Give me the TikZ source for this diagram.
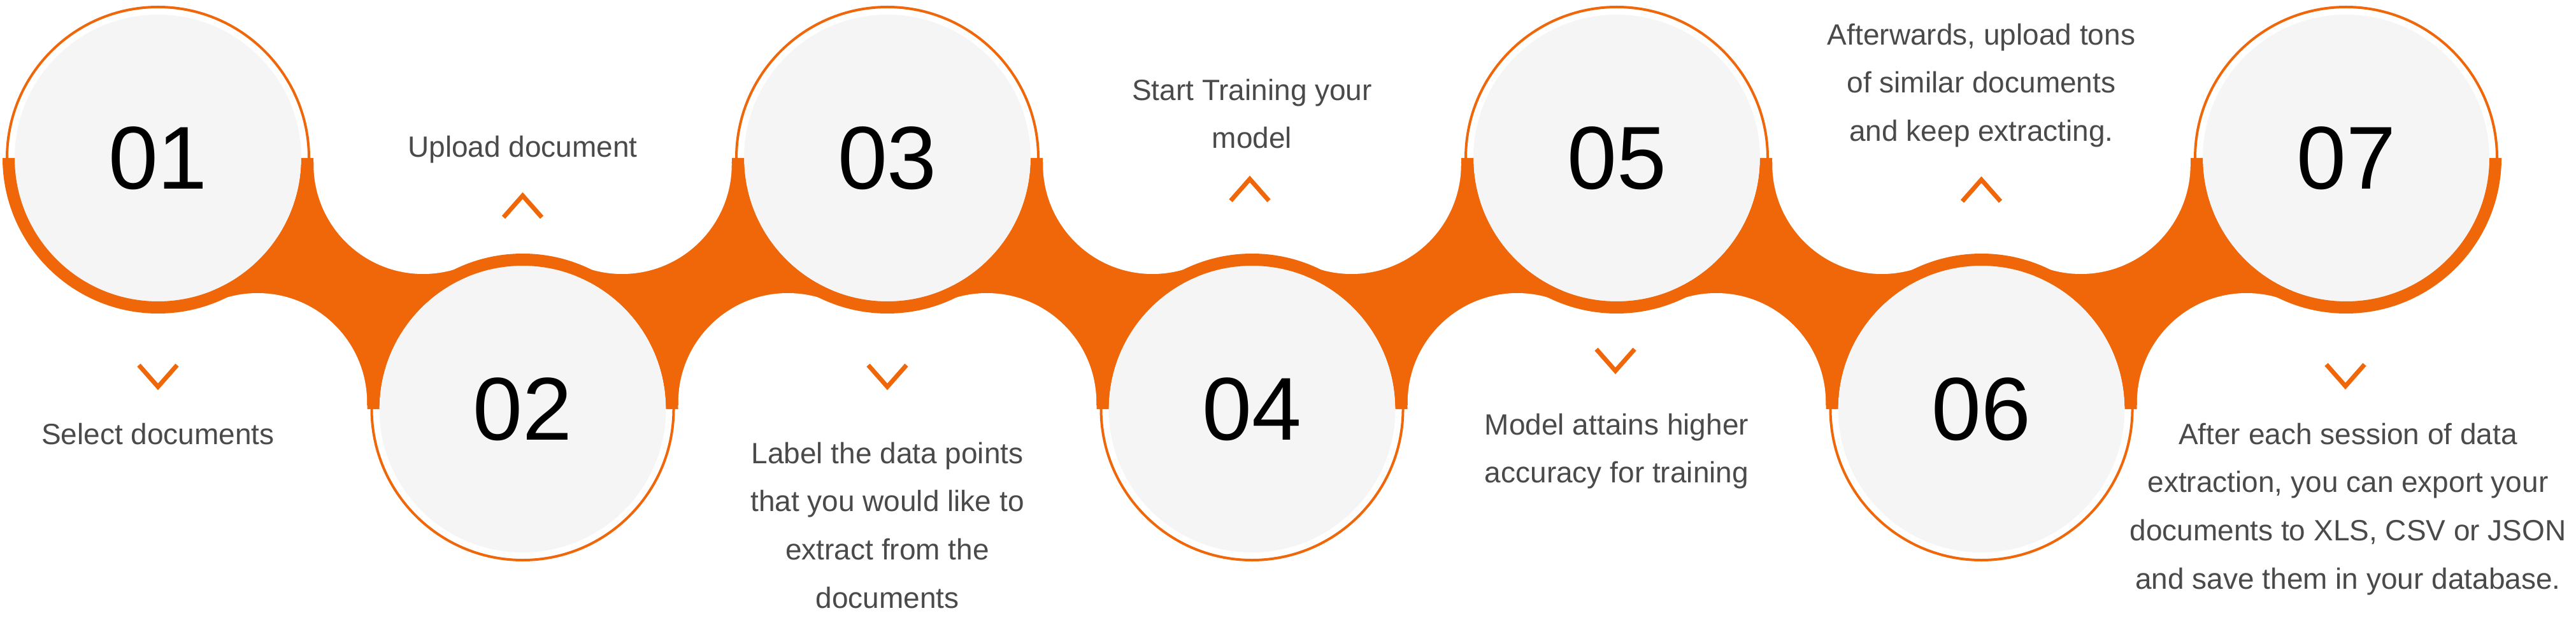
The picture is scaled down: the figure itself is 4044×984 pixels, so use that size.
\documentclass[tikz,border=0pt]{standalone}
\usepackage{fontspec}
\setmainfont{Liberation Sans}
\usetikzlibrary{calc,positioning}
\definecolor{stepor}{HTML}{F0670A}
\definecolor{stepgrey}{HTML}{F5F5F5}
\definecolor{captxt}{HTML}{4A4A4A}
\tikzset{
  chev/.style={draw=stepor, line width=7pt, miter limit=10},
  chevdown/.pic={\draw[chev] (-30,-34) -- (0,0) -- (30,-34);},
  chevup/.pic={\draw[chev] (-30,34) -- (0,0) -- (30,34);}
}

\begin{document}
\begin{tikzpicture}[x=1pt,y=-1pt,
    numtxt/.style={font=\fontsize{140}{140}\selectfont, text=black, inner sep=0pt},
    captext/.style={font=\fontsize{46}{75.8}\selectfont, text=captxt, align=center, inner sep=0pt, anchor=north}]
  \fill[white] (0,0) rectangle (4044,984);
  \useasboundingbox (0,0) rectangle (4044,984);

  % centres: odd steps on the top row, even ones below
  \foreach \i in {1,...,7} {
    \pgfmathsetmacro{\cx}{248+572.5*(\i-1)}
    \pgfmathsetmacro{\cy}{mod(\i,2)==1 ? 248 : 642}
    \coordinate (c\i) at (\cx,\cy);
  }

  % orange bridges, carved by white lobes
  \foreach \i in {1,...,6} {
    \pgfmathtruncatemacro{\j}{\i+1}
    \pgfmathsetmacro{\mx}{248+572.5*(\i-0.5)}
    \pgfmathsetmacro{\ux}{mod(\i,2)==1 ? \mx+130 : \mx-130}
    \pgfmathsetmacro{\lx}{mod(\i,2)==1 ? \mx-130 : \mx+130}
    \coordinate (u\i) at (\ux,258);
    \coordinate (l\i) at (\lx,632);
    \fill[stepor] (c\i) -- ($(c\i)!244pt!(u\i)$) -- ($(c\j)!244pt!(u\i)$) -- (c\j)
      -- ($(c\j)!244pt!(l\i)$) -- ($(c\i)!244pt!(l\i)$) -- cycle;
    \fill[white] (u\i) circle[radius=172] (l\i) circle[radius=172];
  }

  % the step circles
  \foreach \i in {1,...,7} {
    \pgfmathsetmacro{\a}{mod(\i,2)==1 ? 0 : 180}
    \pgfmathsetmacro{\b}{\a+180}
    \pgfmathsetmacro{\e}{\a+360}
    \fill[stepgrey] (c\i) circle[radius=225];
    \fill[stepor] ($(c\i)+(\a:244)$) arc[start angle=\a, end angle=\b, radius=244]
      -- ($(c\i)+(\b:225)$) arc[start angle=\b, end angle=\a, radius=225] -- cycle;
    \draw[stepor, line width=4pt] ($(c\i)+(\b:237)$) arc[start angle=\b, end angle=\e, radius=237];
    \node[numtxt] (n\i) at (c\i) {0\i};
  }

  % chevrons
  \pic at (248,607) {chevdown};
  \pic at (820.5,307) {chevup};
  \pic at (1393,607) {chevdown};
  \pic at (1962,281) {chevup};
  \pic at (2536,582) {chevdown};
  \pic at (3110.5,282) {chevup};
  \pic at (3682,606) {chevdown};

  % captions
  \node[captext] (t1) at (248,663.5) {Select documents};
  \node[captext] (t2) at (820.5,212.5) {Upload document};
  \node[captext] (t3) at (1393,693.5) {Label the data points\\that you would like to\\extract from the\\documents};
  \node[captext] (t4) at (1965.5,123.5) {Start Training your\\model};
  \node[captext] (t5) at (2538,648.5) {Model attains higher\\accuracy for training};
  \node[captext] (t6) at (3110.5,36.5) {Afterwards, upload tons\\of similar documents\\and keep extracting.};
  \node[captext] (t7) at (3686,663.5) {After each session of data\\extraction, you can export your\\documents to XLS, CSV or JSON\\and save them in your database.};
\end{tikzpicture}
\end{document}
